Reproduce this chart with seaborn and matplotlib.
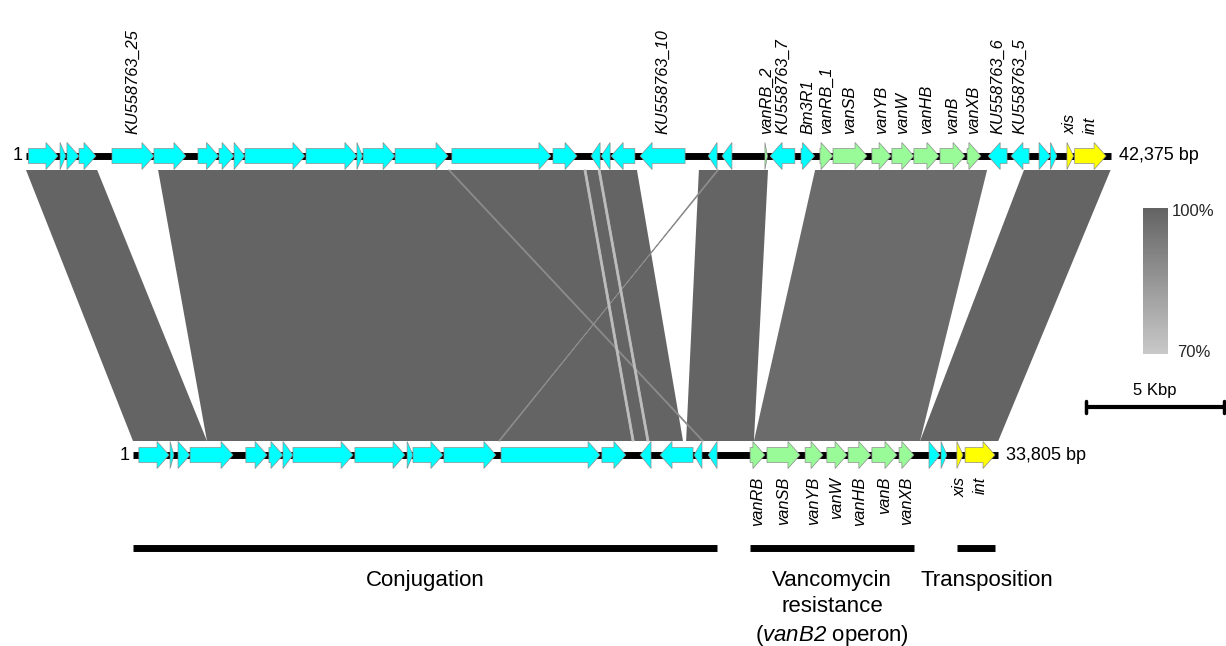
import numpy as np
import pandas as pd
import matplotlib.pyplot as plt
import seaborn as sns
from matplotlib.patches import Polygon
from matplotlib.colors import LinearSegmentedColormap, Normalize

# genome lengths (bp)
top_len = 42375
bottom_len = 33805

# top genome genes
top_start = [100, 1330, 1600, 2070, 3360, 5000, 6720, 7540, 8130, 8555, 10940, 12930, 13170,
             14420, 16640, 20590, 22070, 22470, 22860, 23990, 26650, 27190, 28870, 29070,
             30280, 31020, 31530, 33050, 33830, 34690, 35710, 36770, 37590, 38480, 39580,
             40030, 40670, 40970]
top_end = [1250, 1560, 2070, 2735, 5000, 6250, 7525, 8130, 8555, 10900, 12930, 13150, 14420,
           16490, 20510, 21530, 22430, 22820, 23790, 25750, 27000, 27580, 28970, 30040,
           30810, 31530, 32860, 33800, 34690, 35670, 36690, 37310, 38330, 39190, 40030,
           40280, 40930, 42200]
top_strand = [1] * 16 + [-1] * 6 + [1, -1, 1, 1, 1, 1, 1, 1, 1, 1, -1, -1, 1, 1, 1, 1]
top_kind = ['other'] * 22 + ['van', 'other', 'other'] + ['van'] * 7 + ['other'] * 4 + ['mob', 'mob']
top_name = ['', '', '', '', 'KU558763_25', '', '', '', '', '', '', '', '', '', '', '', '', '', '',
            'KU558763_10', '', '', 'vanRB_2', 'KU558763_7', 'Bm3R1', 'vanRB_1', 'vanSB', 'vanYB',
            'vanW', 'vanHB', 'vanB', 'vanXB', 'KU558763_6', 'KU558763_5', '', '', 'xis', 'int']

# bottom genome genes
bot_start = [230, 1450, 1760, 2230, 4410, 5310, 5860, 6250, 8670, 10710, 10940, 12150, 14380,
             18320, 19810, 20590, 21920, 22470, 24110, 24770, 26260, 27110, 27940, 28870,
             29930, 31100, 31570, 32190, 32510]
bot_end = [1410, 1600, 2230, 3910, 5240, 5860, 6250, 8600, 10630, 10940, 12110, 14180, 18250,
           19260, 20240, 21880, 22230, 22820, 24690, 26060, 26960, 27900, 28830, 29850,
           30510, 31530, 31800, 32430, 33680]
bot_strand = [1] * 14 + [-1] * 4 + [1] * 11
bot_kind = ['other'] * 18 + ['van'] * 7 + ['other', 'other', 'mob', 'mob']
bot_name = [''] * 18 + ['vanRB', 'vanSB', 'vanYB', 'vanW', 'vanHB', 'vanB', 'vanXB',
                        '', '', 'xis', 'int']

# BLASTn hits: top start/end, bottom start/end, identity (%)
hit_top_start = [0, 5160, 26290, 30830, 38990, 16500, 27010, 21800, 22350]
hit_top_end = [2780, 23870, 28990, 37550, 42375, 16550, 27060, 21880, 22430]
hit_bot_start = [0, 2890, 21610, 24260, 30750, 22240, 14330, 19500, 20080]
hit_bot_end = [2890, 21490, 24260, 30750, 33805, 22290, 14280, 19580, 20160]
hit_identity = [100, 100, 100, 98, 100, 88, 88, 73, 73]

# functional regions on bottom genome
region_name = ['Conjugation', 'Vancomycin\nresistance\n($\\mathsf{vanB2}$ operon)', 'Transposition']
region_start = [0, 24110, 32190]
region_end = [22820, 30510, 33680]

sns.set_theme(style='white')
plt.rcParams['font.family'] = ['Liberation Sans', 'DejaVu Sans']
plt.rcParams['mathtext.fontset'] = 'custom'
plt.rcParams['mathtext.rm'] = 'Liberation Sans'
plt.rcParams['mathtext.sf'] = 'Liberation Sans:italic'

kind_color = {'other': '#00ffff', 'van': '#98fb98', 'mob': '#ffff00'}
cmap = LinearSegmentedColormap.from_list('ident', ['#c8c8c8', '#646464'])
norm = Normalize(70, 100)

bottom_offset = 4180
y_top, y_bot = 156, 455
hit_y0, hit_y1 = 170, 441
BODY, HEAD_H, HEAD_BP = 7.5, 13.5, 470

fig = plt.figure(figsize=(12.26, 6.46), dpi=100)
ax = fig.add_axes([0, 0, 1, 1])
ax.set_xlim(-1016, 46884)
ax.set_ylim(646, 0)
ax.axis('off')

# homology blocks
for ts, te, bs, be, ident in zip(hit_top_start, hit_top_end, hit_bot_start, hit_bot_end, hit_identity):
    c = cmap(norm(ident))
    thin = (te - ts) < 200
    poly = Polygon([(ts, hit_y0), (te, hit_y0), (be + bottom_offset, hit_y1), (bs + bottom_offset, hit_y1)],
                   closed=True, facecolor=c, edgecolor=c, lw=0.6 if thin else 0, zorder=2 if thin else 1)
    ax.add_patch(poly)


def gene_arrow(start, end, strand, y, color):
    head = min(end - start, HEAD_BP)
    if strand > 0:
        tail, tip, neck = start, end, end - head
    else:
        tail, tip, neck = end, start, start + head
    pts = [(tail, y - BODY), (neck, y - BODY), (neck, y - HEAD_H), (tip, y),
           (neck, y + HEAD_H), (neck, y + BODY), (tail, y + BODY)]
    ax.add_patch(Polygon(pts, closed=True, facecolor=color, edgecolor='#8c8c8c', lw=0.5, zorder=4))


tracks = [
    (0, top_len, y_top, top_start, top_end, top_strand, top_kind, top_name, 'bottom', -22),
    (bottom_offset, bottom_len, y_bot, bot_start, bot_end, bot_strand, bot_kind, bot_name, 'top', 22),
]
for off, length, y, st, en, sd, kd, nm, va, dy in tracks:
    ax.plot([off, off + length], [y, y], color='black', lw=5, solid_capstyle='butt', zorder=3)
    ax.text(off - 130, y, '1', ha='right', va='center', fontsize=13, color='black')
    ax.text(off + length + 320, y, f'{length:,} bp', ha='left', va='center', fontsize=13, color='black')
    for s, e, d, k, n in zip(st, en, sd, kd, nm):
        gene_arrow(s + off, e + off, d, y, kind_color[k])
        if n:
            ax.text((s + e) / 2 + off, y + dy, n, rotation=90, ha='center', va=va,
                    fontsize=11.8, fontstyle='italic', color='black')

# functional regions
label_shift = [0, 0, 430]
for name, s, e, sh in zip(region_name, region_start, region_end, label_shift):
    ax.plot([s + bottom_offset, e + bottom_offset], [548, 548], color='black', lw=5, solid_capstyle='butt')
    ax.text((s + e) / 2 + bottom_offset + sh, 570, name, ha='center', va='top', fontsize=16,
            color='black', linespacing=1.32)

# scale bar
ax.plot([41400, 46800], [407, 407], color='black', lw=3, solid_capstyle='butt')
ax.plot([41400, 41400], [401, 413], color='black', lw=2.5)
ax.plot([46800, 46800], [401, 413], color='black', lw=2.5)
ax.text(44100, 391, '5 Kbp', ha='center', va='center', fontsize=12, color='black')

# identity gradient
ax_leg = fig.add_axes([1143 / 1226, 1 - 354 / 646, 25 / 1226, 146 / 646])
grad = pd.DataFrame(np.linspace(100, 70, 80)[:, None])
sns.heatmap(grad, ax=ax_leg, cmap=cmap, vmin=70, vmax=100, cbar=False,
            xticklabels=False, yticklabels=False)
ax_leg.text(1.15, 0.975, '100%', transform=ax_leg.transAxes, ha='left', va='center', fontsize=12)
ax_leg.text(1.35, 0.01, '70%', transform=ax_leg.transAxes, ha='left', va='center', fontsize=12)

fig.savefig('out.png', dpi=100)
